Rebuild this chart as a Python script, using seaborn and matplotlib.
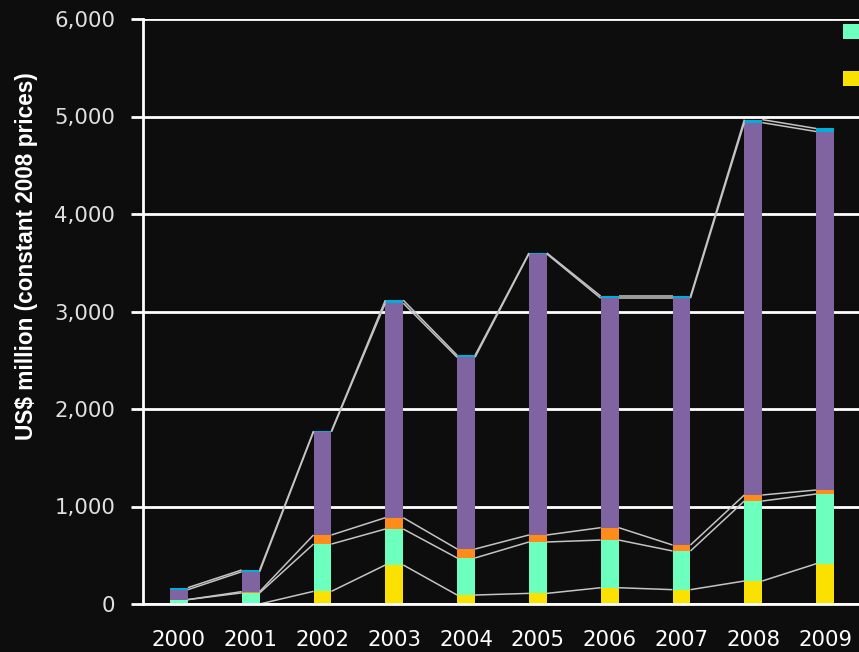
#!/usr/bin/env python3
import matplotlib
matplotlib.use("Agg")
import matplotlib.pyplot as plt
from matplotlib.patches import Patch
import seaborn as sns
import numpy as np

# data (US$ million, constant 2008 prices)
years = ["2000", "2001", "2002", "2003", "2004", "2005", "2006", "2007", "2008", "2009"]
yellow_vals = [0, 0, 130, 400, 92, 109, 167, 147, 236, 413]
aqua_vals = [45, 114, 485, 369, 380, 527, 489, 397, 820, 715]
orange_vals = [0, 13, 93, 116, 92, 72, 127, 61, 62, 41]
purple_vals = [102, 204, 1057, 2200, 1966, 2882, 2353, 2531, 3819, 3677]
cyan_vals = [21, 18, 10, 31, 21, 10, 21, 21, 31, 31]

series_vals = [yellow_vals, aqua_vals, orange_vals, purple_vals, cyan_vals]
series_colors = ["#FAE100", "#6CFFBE", "#FF8C1A", "#8064A2", "#00AEDB"]

BG = "#0D0D0D"

sns.set_theme(style="dark")
plt.rcParams["font.family"] = ["DejaVu Sans"]

fig = plt.figure(figsize=(8.59, 6.52), dpi=100, facecolor=BG)
ax = fig.add_axes([143 / 859, 48 / 652, 718 / 859, 585 / 652])
ax.set_facecolor(BG)

cum = np.cumsum(np.array(series_vals, dtype=float), axis=0)
bar_w = 0.25

# stacked bars: draw the running totals from the top series down
for i in range(len(series_vals) - 1, -1, -1):
    sns.barplot(x=years, y=cum[i], color=series_colors[i], width=bar_w,
                saturation=1, errorbar=None, linewidth=0, ax=ax, zorder=3)

# series lines joining the tops of each segment
for i in range(len(years) - 1):
    for lvl in cum:
        ax.plot([i + bar_w / 2, i + 1 - bar_w / 2], [lvl[i], lvl[i + 1]],
                color="#c4c4c4", lw=1.1, zorder=4, solid_capstyle="butt")

ax.set_xlim(-0.5, len(years) - 0.5)
ax.set_ylim(0, 6000)
ax.set_yticks(np.arange(0, 6001, 1000))
ax.set_yticklabels([f"{v:,}" for v in range(0, 6001, 1000)])
ax.grid(axis="y", color="white", lw=2, zorder=1)
ax.grid(axis="x", visible=False)
ax.set_axisbelow(True)

for s in ["top", "right"]:
    ax.spines[s].set_visible(False)
for s in ["left", "bottom"]:
    ax.spines[s].set_color("white")
    ax.spines[s].set_linewidth(2)
    ax.spines[s].set_zorder(5)

ax.tick_params(axis="y", direction="out", length=9, width=2, color="white",
               labelcolor="#e0e0e0", labelsize=15.3, pad=11, left=True)
ax.tick_params(axis="x", length=0, labelcolor="white", labelsize=15.3, pad=19)

ax.set_xlabel("")
ax.set_ylabel("US$ million (constant 2008 prices)", color="white",
              fontsize=16.3, fontweight="bold",
              family=["Liberation Sans", "DejaVu Sans"])
ax.yaxis.set_label_coords((38 - 143) / 718, (604 - 256) / 585)

# legend squares at the right edge (labels fall outside the canvas)
handles = [Patch(facecolor=series_colors[1], edgecolor="none"),
           Patch(facecolor=series_colors[0], edgecolor="none")]
fig.legend(handles, ["", ""],
           loc="upper left", bbox_to_anchor=(843 / 859, 1 - 23 / 652),
           frameon=False, fontsize=12, handlelength=1.0, handleheight=1.0,
           borderpad=0, borderaxespad=0, labelspacing=1.75,
           handletextpad=0.8)

fig.savefig("out.png", dpi=100, facecolor=BG)
